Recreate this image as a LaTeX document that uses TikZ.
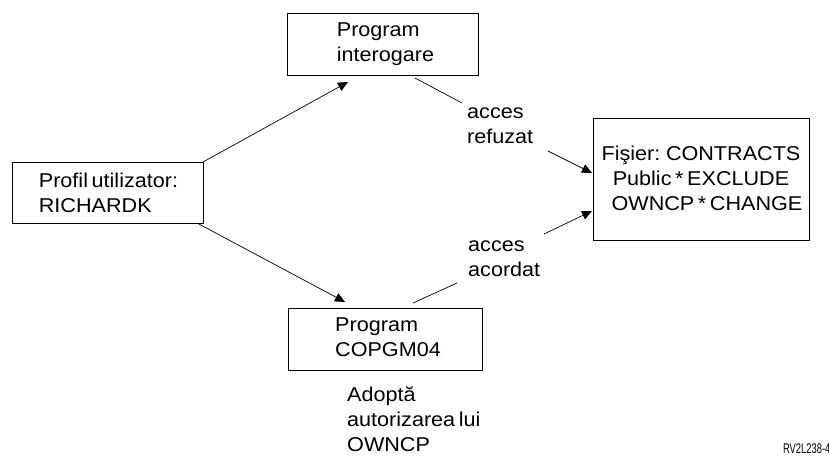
\documentclass[tikz,border=0pt]{standalone}
\usepackage{fontspec}
\setmainfont{Liberation Sans}[FakeStretch=1.08,WordSpace=0.6]
\usetikzlibrary{arrows.meta}
\begin{document}
\begin{tikzpicture}[x=1pt,y=-1pt,
  box/.style={draw,line width=0.8pt,inner sep=0pt},
  txt/.style={font=\fontsize{20}{25}\selectfont,inner sep=0pt},
  conn/.style={line width=0.7pt},
  arr/.style={line width=0.7pt,-{Triangle[length=10pt,width=9pt]}}]
\useasboundingbox (0,0) rectangle (829,457);
% boxes
\node[box,minimum width=191pt,minimum height=61pt] (prof) at (107.5,192.5) {};
\node[txt,align=left] (proft) at ([xshift=1pt]prof.center) {Profil utilizator:\\RICHARDK};
\node[box,minimum width=191pt,minimum height=62pt] (ig) at (382.5,44) {};
\node[txt,align=left] (igt) at ([xshift=3pt]ig.center) {Program\\interogare};
\node[box,minimum width=194pt,minimum height=62pt] (cop) at (385,339) {};
\node[txt,align=left] (copt) at ([xshift=3pt,yshift=2pt]cop.center) {Program\\COPGM04};
\node[box,minimum width=216pt,minimum height=122pt] (fis) at (701,179) {};
\node[txt,align=center] (fist) at ([yshift=1pt]fis.center) {Fişier: CONTRACTS\\Public * EXCLUDE\\\hspace*{12pt}OWNCP * CHANGE};
% labels
\node[txt,align=left,anchor=west] (lref) at (467,126) {acces\\refuzat};
\node[txt,align=left,anchor=west] (lacc) at (468,259) {acces\\acordat};
\node[txt,align=left,anchor=north west] (adopt) at (347,387) {Adoptă\\autorizarea lui\\OWNCP};
\node[font=\fontsize{14}{15}\selectfont,xscale=0.62,inner sep=0pt,anchor=base west] (rv) at (783,453) {RV2L238-4};
% coordinates
\coordinate (p1) at (203,162);
\coordinate (t1) at (348,82);
\coordinate (p2) at (197,223);
\coordinate (t2) at (345,302);
\coordinate (r1) at (415,78);
\coordinate (r2) at (462,103);
\coordinate (r3) at (548,151);
\coordinate (t3) at (592,173);
\coordinate (a1) at (413,303);
\coordinate (a2) at (457,283);
\coordinate (a3) at (544,234);
\coordinate (t4) at (592,211);
% connectors
\draw[arr] (p1) -- (t1);
\draw[arr] (p2) -- (t2);
\draw[conn] (r1) -- (r2);
\draw[arr] (r3) -- (t3);
\draw[conn] (a1) -- (a2);
\draw[arr] (a3) -- (t4);
\end{tikzpicture}
\end{document}
